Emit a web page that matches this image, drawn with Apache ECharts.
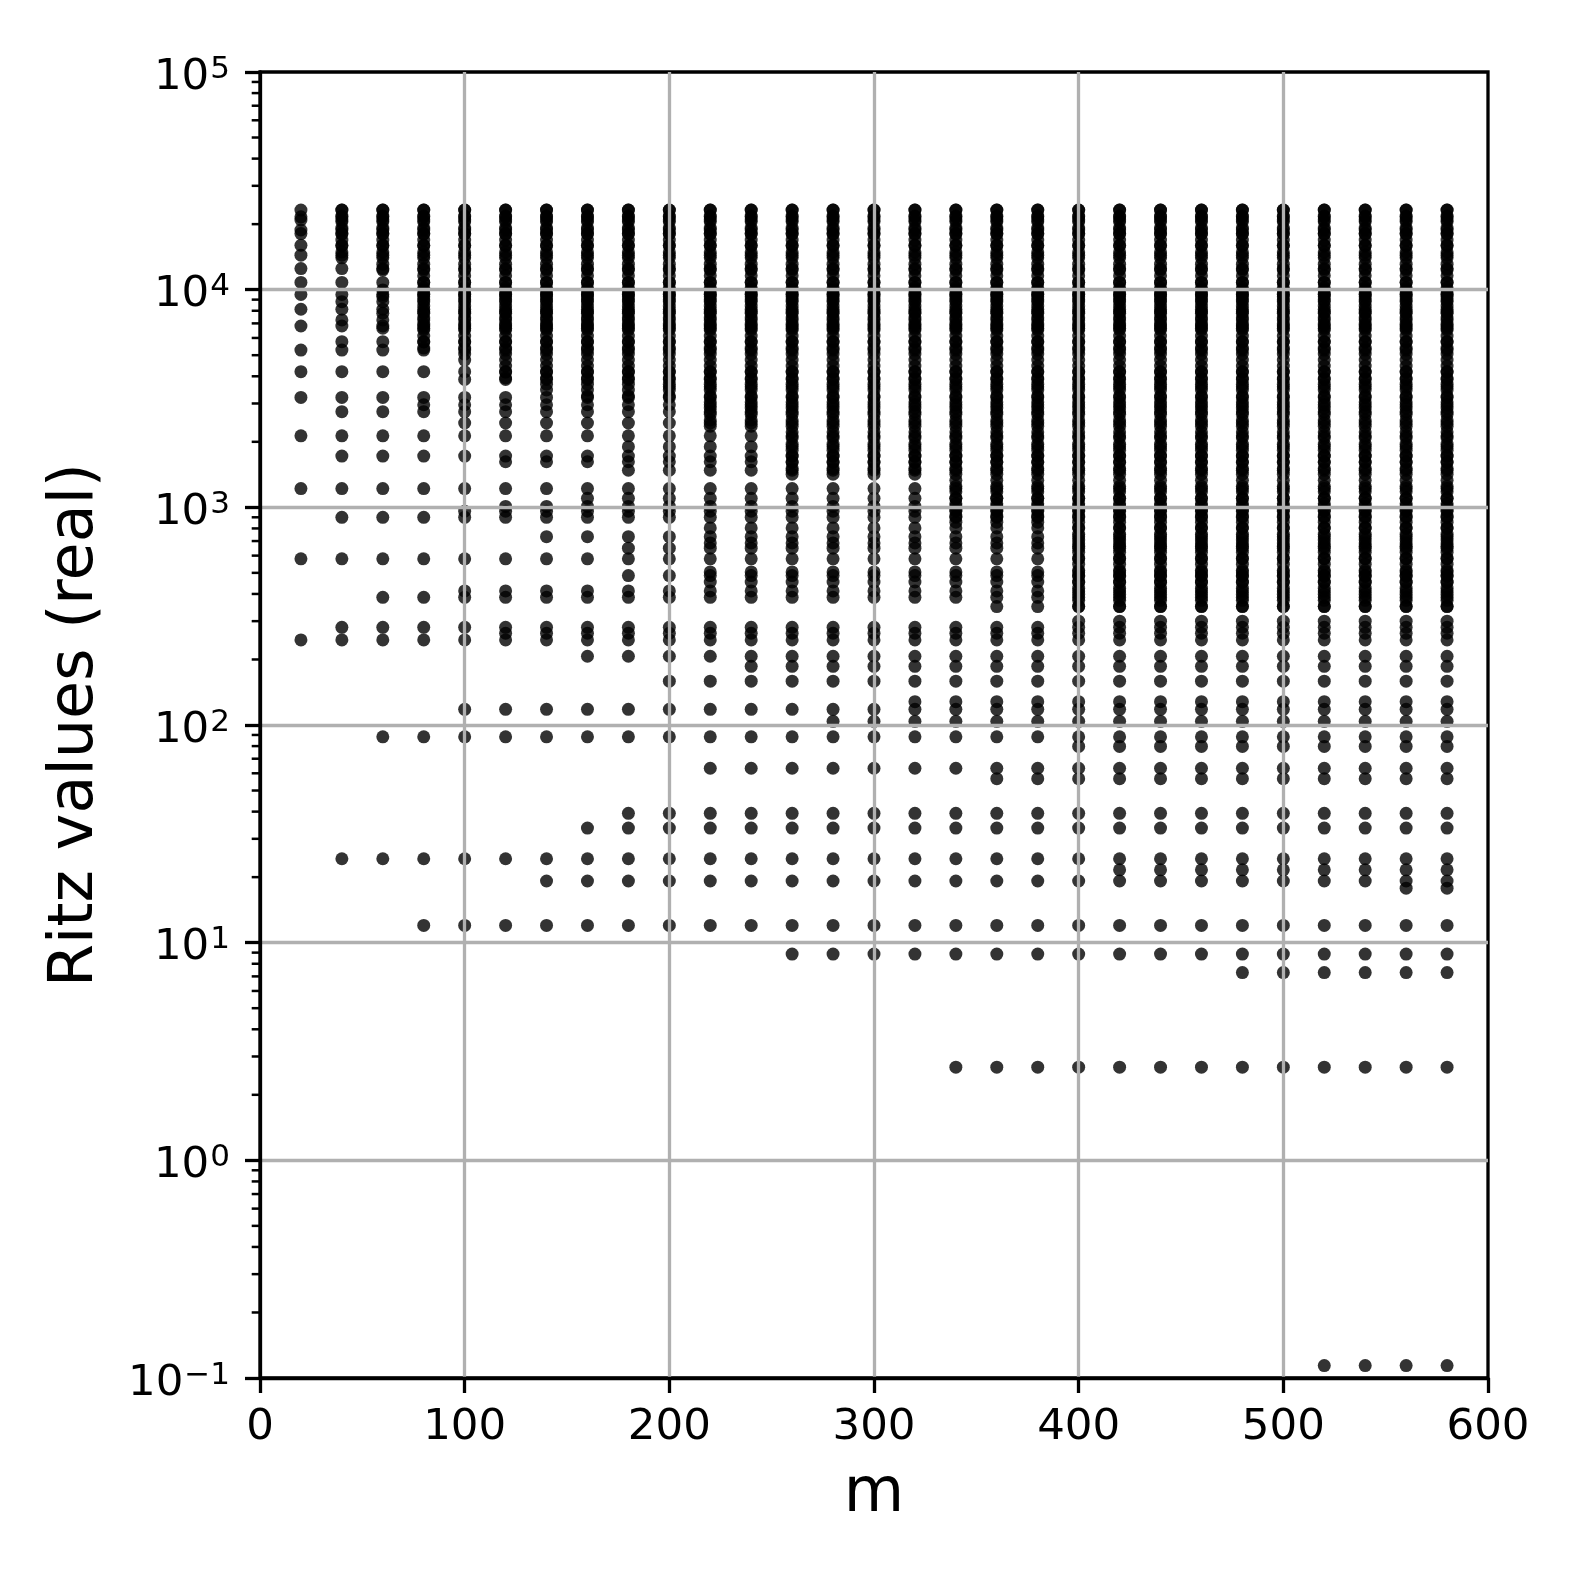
<!DOCTYPE html>
<html>
<head>
<meta charset="utf-8">
<script src="https://cdn.jsdelivr.net/npm/echarts@6.0.0/dist/echarts.min.js"></script>
<style>
html,body{margin:0;padding:0;background:#fff;}
#chart{width:1578px;height:1578px;}
</style>
</head>
<body>
<div id="chart"></div>
<script>
// Krylov dimension m (x) for each column of Ritz values
const mValues = [20,40,60,80,100,120,140,160,180,200,220,240,260,280,300,320,340,360,380,400,420,440,460,480,500,520,540,560,580];

const bandLevels = [
  23200,21800,20500,19200,18000,16900,15900,14900,14000,
  13100,12300,
  11600,10800,10200,9550,8960,8410,7890,7410,6950,6530,6120,5750,5390,
  5060,4750,
  4460,4180,3930,
  3680,3460,
  3250,
  3050,2860,2680,2520,2360,
  2220,2080,1950,1830,1720,1610,1510,1420,
  1330,1250,1180,1100,1040,971,911,855,
  803,753,707,663,622,584,548,514,483,453,425,399,374,351
];
const bandFirstM = [
  40,40,40,40,40,40,40,40,40,
  60,60,
  80,80,80,80,80,80,80,80,80,80,80,80,80,
  100,100,
  120,120,120,
  140,140,
  160,
  220,220,220,220,220,
  260,260,260,260,260,260,260,260,
  340,340,340,340,340,340,340,340,
  400,400,400,400,400,400,400,400,400,400,400,400,400,400
];

// Isolated Ritz values (separate dots) and the first m where each appears
const ritzLevels = [
  23200,21600,20900,18800,18100,16000,14400,12500,10800,9970,
  9500,9290,8810,8130,7790,7260,6810,6650,5770,5280,
  4200,3870,3580,3200,2960,2750,2440,2130,1900,1720,
  1620,1480,1220,1100,1010,960,900,804,733,686,
  649,580,505,486,454,413,386,350,300,281,
  264,246,207,186,159,128,118,104,88.2,79.7,
  63.3,56.7,39.3,33.6,24.3,21.6,19.2,17.8,12.0,8.86,
  7.29,2.68,0.114
];
const ritzFirstM = [
  20,20,20,20,20,20,20,20,20,60,
  20,60,40,20,60,40,20,60,40,20,
  20,100,200,20,80,40,100,20,180,40,
  120,180,20,160,120,100,40,220,140,220,
  180,20,220,180,220,100,60,360,400,40,
  120,20,160,240,200,320,100,280,60,400,
  220,360,180,160,40,420,140,560,80,260,
  480,340,520
];

// Axis ticks
const xTicks = [0,100,200,300,400,500,600];
const yTickExponents = [-1,0,1,2,3,4,5];
const minorMultipliers = [2,3,4,5,6,7,8,9];

const points = [];
mValues.forEach(function (m) {
  bandLevels.forEach(function (v, i) { if (bandFirstM[i] <= m) points.push([m, v]); });
  ritzLevels.forEach(function (v, i) { if (ritzFirstM[i] <= m) points.push([m, v]); });
});

const FONT = 'DejaVu Sans';
const chart = echarts.init(document.getElementById('chart'), null, {renderer: 'canvas'});

chart.setOption({
  animation: false,
  backgroundColor: '#fff',
  grid: {
    left: 260, top: 72, width: 1228, height: 1306,
    show: true, borderColor: '#000', borderWidth: 3.3, backgroundColor: 'transparent',
    containLabel: false, outerBoundsMode: 'none'
  },
  xAxis: {
    type: 'value', min: xTicks[0], max: xTicks[xTicks.length - 1], interval: 100, z: 3,
    axisLine: {show: true, onZero: false, lineStyle: {color: '#000', width: 3.3}},
    axisTick: {show: true, length: 15, lineStyle: {color: '#000', width: 3.3}},
    axisLabel: {fontFamily: FONT, fontSize: 43.5, color: '#000', margin: 28, showMinLabel: true, showMaxLabel: true},
    splitLine: {show: true, showMinLine: false, showMaxLine: false, lineStyle: {color: '#b0b0b0', width: 3.3}},
    name: 'm', nameLocation: 'middle', nameGap: 86,
    nameTextStyle: {fontFamily: FONT, fontSize: 62, color: '#000'}
  },
  yAxis: {
    type: 'log', logBase: 10, min: 0.1, max: 100000, splitNumber: 6, z: 3,
    axisLine: {show: true, lineStyle: {color: '#000', width: 3.3}},
    axisTick: {show: true, length: 15, lineStyle: {color: '#000', width: 3.3}},
    axisLabel: {
      margin: 30, showMinLabel: true, showMaxLabel: true,
      padding: [7, 0, 0, 0],
      formatter: function (v) {
        const e = Math.round(Math.log10(v));
        const idx = yTickExponents.indexOf(e);
        const ex = yTickExponents[idx];
        return '{b|10}{s|' + (ex < 0 ? '\u2212' + (-ex) : String(ex)) + '}';
      },
      rich: {
        b: {fontFamily: FONT, fontSize: 43.5, color: '#000', lineHeight: 43, padding: [4, 0, 0, 0]},
        s: {fontFamily: FONT, fontSize: 31, color: '#000', lineHeight: 21, verticalAlign: 'top', padding: [0, 0, 0, 1]}
      }
    },
    splitLine: {show: true, showMinLine: false, showMaxLine: false, lineStyle: {color: '#b0b0b0', width: 3.3}},
    name: 'Ritz values (real)', nameLocation: 'middle', nameGap: 153,
    nameTextStyle: {fontFamily: FONT, fontSize: 62, color: '#000'}
  },
  series: [{
    type: 'scatter',
    data: points,
    symbol: 'circle',
    symbolSize: 13,
    itemStyle: {color: '#000', opacity: 0.8},
    progressive: 0,
    large: false,
    silent: true,
    z: 2
  }]
});

// log-axis minor ticks at 2..9 x 10^k
const minorGraphics = [];
const axisX = chart.convertToPixel({xAxisIndex: 0}, 0);
for (let e = -1; e < 5; e++) {
  minorMultipliers.forEach(function (k) {
    const y = chart.convertToPixel({yAxisIndex: 0}, k * Math.pow(10, e));
    minorGraphics.push({
      type: 'line', silent: true, z: 10,
      shape: {x1: axisX - 8.3, y1: y, x2: axisX, y2: y},
      style: {stroke: '#000', lineWidth: 2.5}
    });
  });
}
chart.setOption({graphic: minorGraphics});
</script>
</body>
</html>
